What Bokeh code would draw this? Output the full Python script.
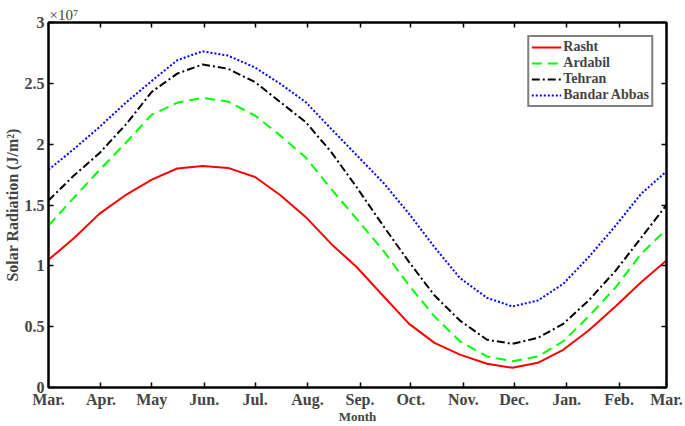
from bokeh.plotting import figure
from bokeh.models import (FixedTicker, LinearAxis, Legend, LegendItem, Title,
                          CustomJSTickFormatter, Range1d)
from bokeh.embed import file_html
from bokeh.resources import INLINE

# sample positions (day of year, counted from 1 March)
days = [0, 15, 30, 46, 61, 76, 91, 106, 122, 137, 152, 167, 182,
        198, 213, 228, 243, 259, 274, 289, 304, 319, 335, 350, 365]

# month tick positions and labels
month_days = [0, 31, 61, 92, 122, 153, 184, 214, 245, 275, 306, 337, 365]
month_labels = ["Mar.", "Apr.", "May", "Jun.", "Jul.", "Aug.", "Sep.",
                "Oct.", "Nov.", "Dec.", "Jan.", "Feb.", "Mar."]

y_ticks = [0, 0.5, 1, 1.5, 2, 2.5, 3]

# solar radiation in units of 10^7 J/m^2
rasht = [1.05, 1.227, 1.427, 1.586, 1.709, 1.80, 1.82, 1.805, 1.73, 1.58, 1.40, 1.18, 0.99,
         0.748, 0.523, 0.367, 0.27, 0.195, 0.162, 0.203, 0.31, 0.468, 0.668, 0.865, 1.044]
ardabil = [1.331, 1.56, 1.786, 2.016, 2.243, 2.34, 2.38, 2.35, 2.235, 2.07, 1.89, 1.63, 1.386,
           1.12, 0.838, 0.583, 0.38, 0.255, 0.216, 0.255, 0.38, 0.583, 0.824, 1.098, 1.30]
tehran = [1.537, 1.742, 1.925, 2.167, 2.43, 2.58, 2.655, 2.62, 2.51, 2.345, 2.18, 1.935, 1.646,
          1.323, 1.03, 0.756, 0.55, 0.392, 0.359, 0.408, 0.523, 0.715, 0.961, 1.23, 1.50]
bandar_abbas = [1.789, 1.96, 2.14, 2.345, 2.52, 2.69, 2.763, 2.728, 2.63, 2.495, 2.345, 2.125, 1.91,
                1.679, 1.427, 1.153, 0.90, 0.737, 0.666, 0.715, 0.852, 1.071, 1.331, 1.592, 1.777]

series_names = ["Rasht", "Ardabil", "Tehran", "Bandar Abbas"]

FONT = "Liberation Serif"

p = figure(width=685, height=426, output_backend="svg", toolbar_location=None,
           x_range=Range1d(0, 365), y_range=Range1d(0, 3),
           min_border_left=48, min_border_right=19, min_border_top=22, min_border_bottom=39)
p.grid.visible = False
p.outline_line_color = "black"
p.outline_line_width = 2
p.background_fill_color = "white"
p.border_fill_color = "white"

r1 = p.line(days, rasht, line_color="#ff0000", line_width=2)
r2 = p.line(days, ardabil, line_color="#00ff00", line_width=2, line_dash="10 6")
r3 = p.line(days, tehran, line_color="black", line_width=2, line_dash="8 3 2 3")
r4 = p.line(days, bandar_abbas, line_color="#0000ff", line_width=2, line_dash="2 2")

# bottom axis
xa = p.xaxis[0]
xa.ticker = FixedTicker(ticks=month_days)
xa.major_label_overrides = {d: lab for d, lab in zip(month_days, month_labels)}
xa.major_label_text_font = FONT
xa.major_label_text_font_style = "bold"
xa.major_label_text_font_size = "16px"
xa.major_label_standoff = 3
xa.major_tick_in = 5
xa.major_tick_out = 0
xa.minor_tick_line_color = None
xa.axis_line_width = 2
xa.major_tick_line_width = 1.5
xa.axis_label = "Month"
xa.axis_label_text_font = FONT
xa.axis_label_text_font_style = "bold"
xa.axis_label_text_font_size = "13px"
xa.axis_label_standoff = -2

# left axis
ya = p.yaxis[0]
ya.ticker = FixedTicker(ticks=y_ticks)
ya.formatter = CustomJSTickFormatter(code="return tick.toString();")
ya.major_label_text_font = FONT
ya.major_label_text_font_style = "bold"
ya.major_label_text_font_size = "16px"
ya.major_label_standoff = 4
ya.major_tick_in = 5
ya.major_tick_out = 0
ya.minor_tick_line_color = None
ya.axis_line_width = 2
ya.major_tick_line_width = 1.5
ya.axis_label = "Solar Radiation (J/m²)"
ya.axis_label_text_font = FONT
ya.axis_label_text_font_style = "bold"
ya.axis_label_text_font_size = "16px"
ya.axis_label_standoff = 1

# top and right axes (box with inward ticks)
top = LinearAxis(ticker=FixedTicker(ticks=month_days), major_label_text_font_size="0px",
                 major_label_standoff=0, major_tick_in=5, major_tick_out=0,
                 minor_tick_line_color=None, axis_line_width=2, major_tick_line_width=1.5)
top.major_label_overrides = {d: "" for d in month_days}
p.add_layout(top, "above")
right = LinearAxis(ticker=FixedTicker(ticks=y_ticks), major_label_text_font_size="0px",
                   major_label_standoff=0, major_tick_in=5, major_tick_out=0,
                   minor_tick_line_color=None, axis_line_width=2, major_tick_line_width=1.5)
right.major_label_overrides = {t: "" for t in y_ticks}
p.add_layout(right, "right")

# exponent label above the axes
p.add_layout(Title(text="×10⁷", align="left", offset=1, standoff=0,
                   text_font=FONT, text_font_style="normal", text_font_size="15px"), "above")

legend = Legend(items=[LegendItem(label=n, renderers=[r]) for n, r in
                       zip(series_names, [r1, r2, r3, r4])],
                location="top_right")
legend.label_text_font = FONT
legend.label_text_font_style = "bold"
legend.label_text_font_size = "14px"
legend.glyph_width = 30
legend.glyph_height = 14
legend.label_height = 14
legend.label_standoff = 2
legend.spacing = 0
legend.padding = 2
legend.margin = 13
legend.border_line_color = "black"
legend.border_line_width = 2
legend.background_fill_alpha = 1
p.add_layout(legend)

open("out.html", "w").write(file_html(p, INLINE))
